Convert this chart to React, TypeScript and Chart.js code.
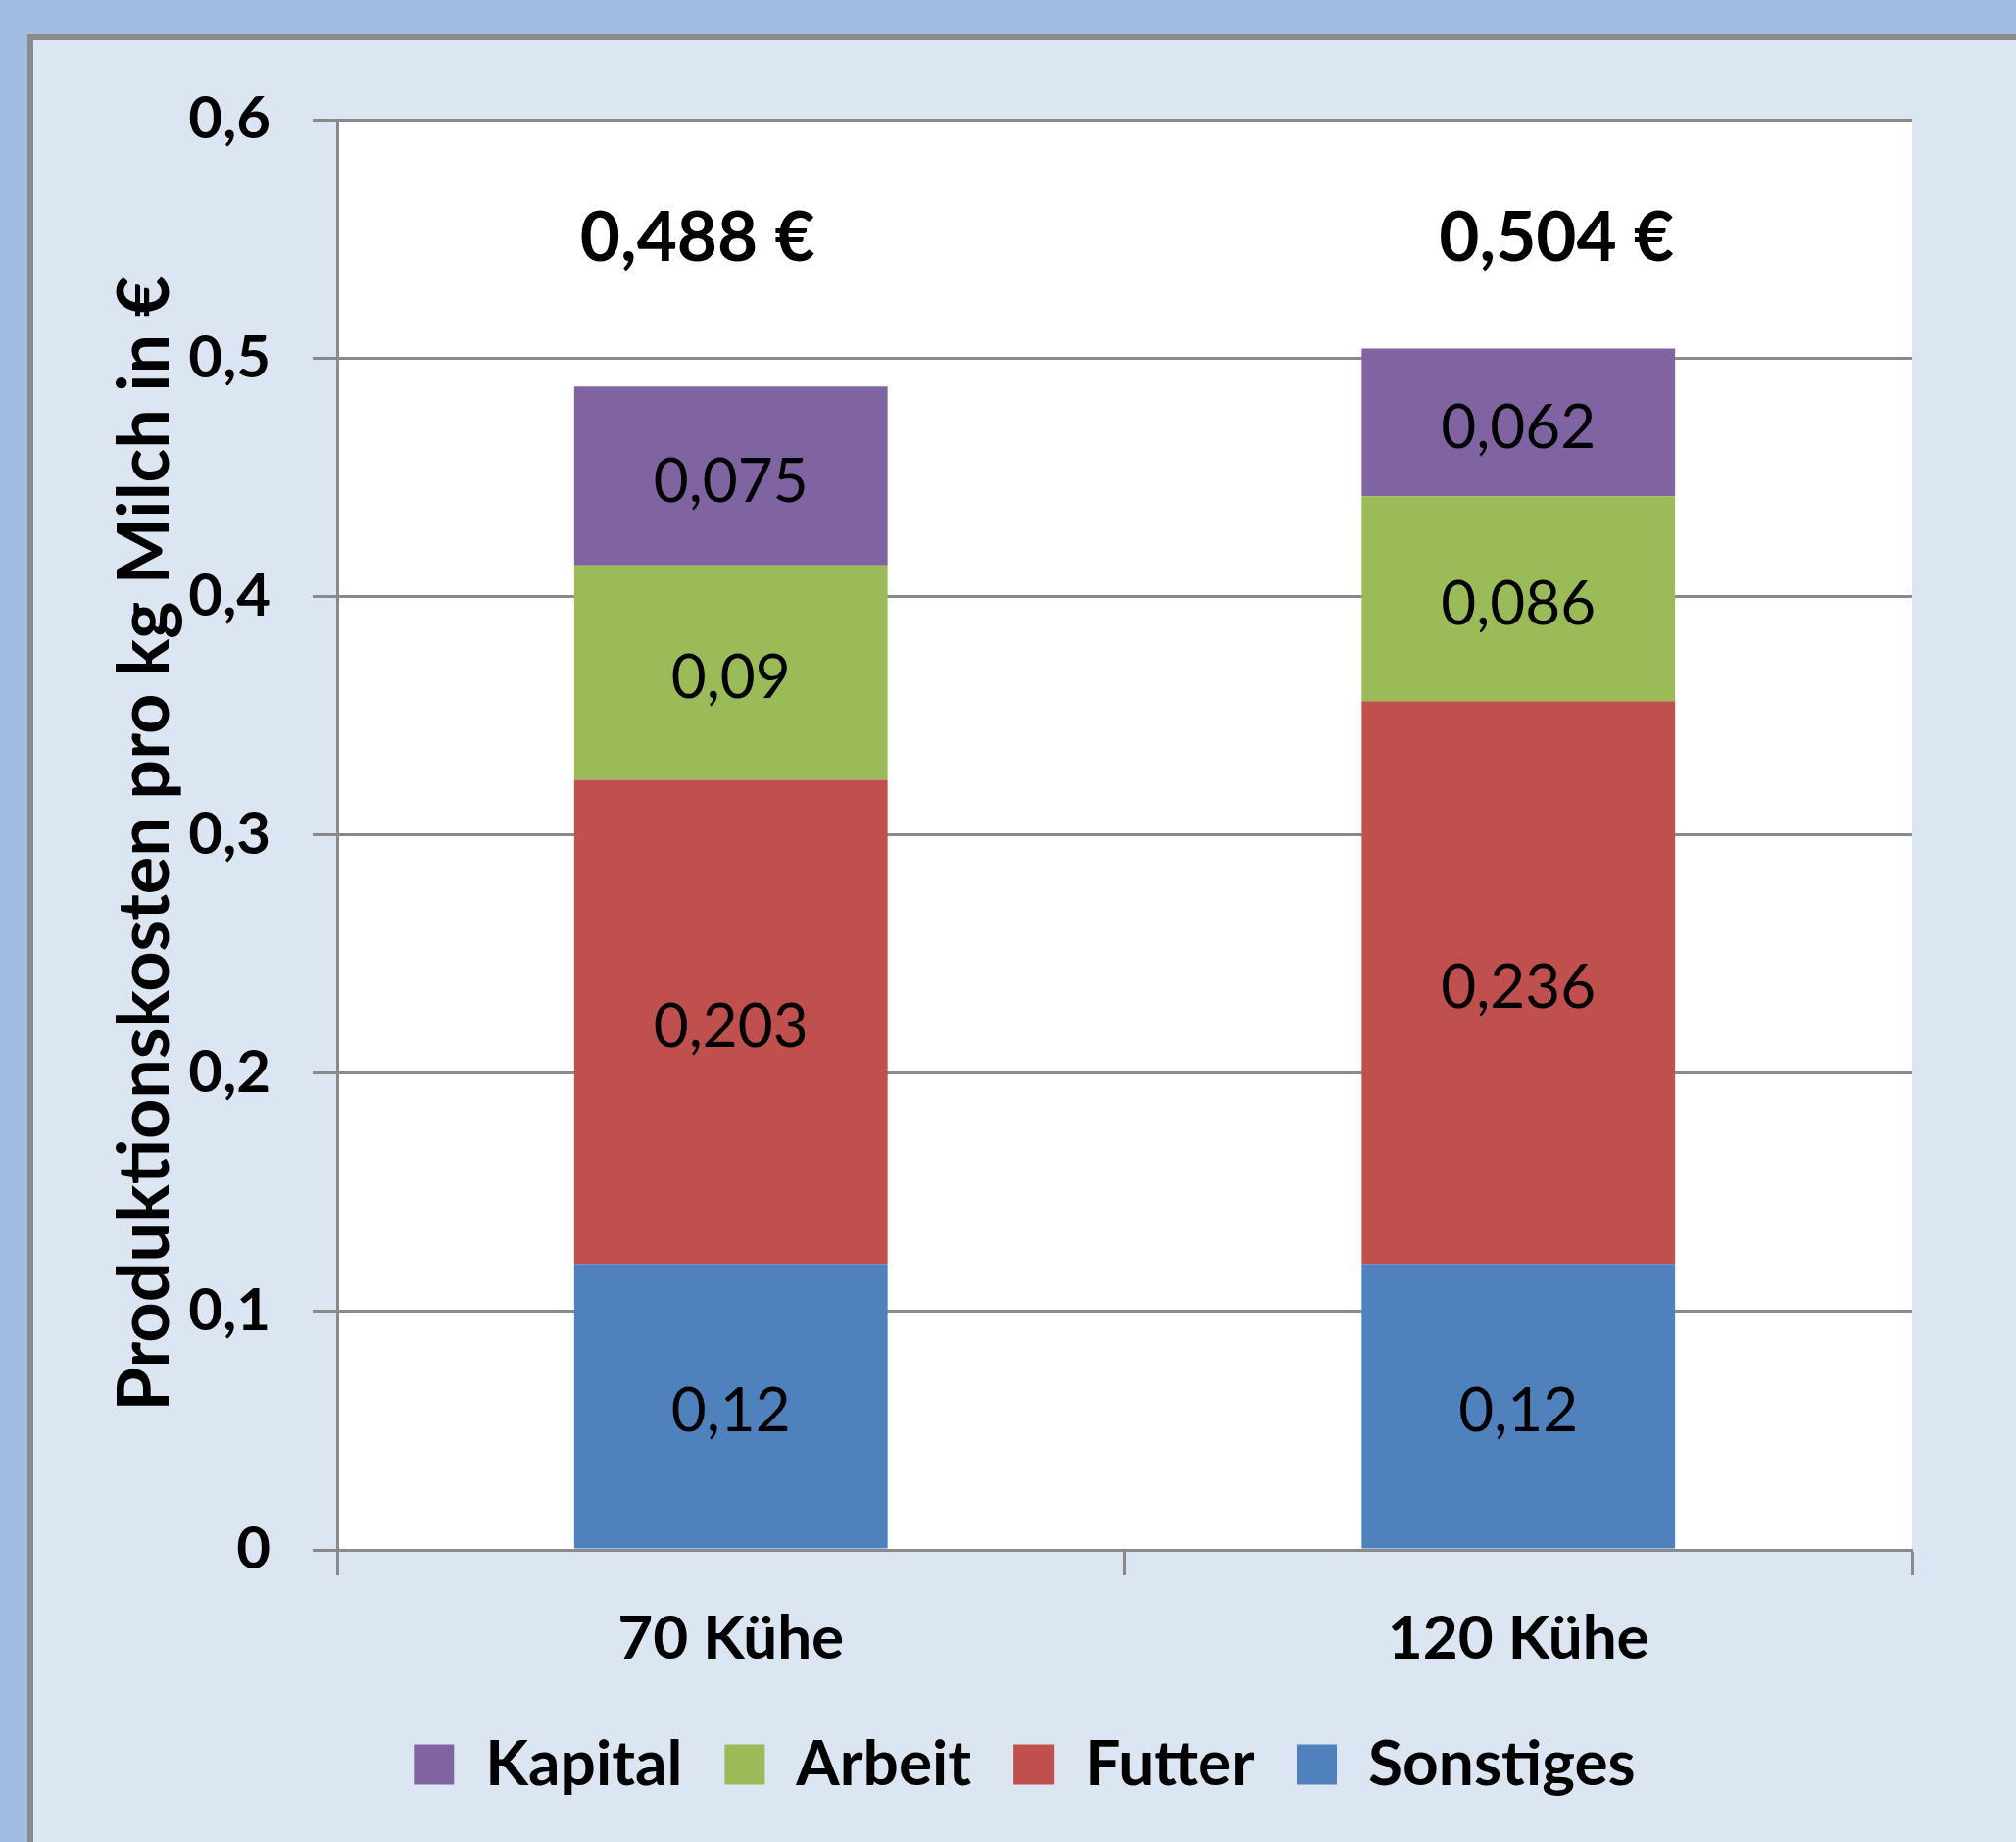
import React, { useEffect, useRef } from "react";
import { Chart, registerables } from "chart.js";

Chart.register(...registerables);

// ---- data ----
const categories = ["70 Kühe", "120 Kühe"];
const seriesNames = ["Sonstiges", "Futter", "Arbeit", "Kapital"];
const sonstiges = [0.12, 0.12];
const futter = [0.203, 0.236];
const arbeit = [0.09, 0.086];
const kapital = [0.075, 0.062];
const totals = [0.488, 0.504];
const seriesColors = ["#4F81BD", "#C0504D", "#9BBB59", "#8064A2"];
const yMin = 0;
const yMax = 0.6;
const yStep = 0.1;
const axisTitle = "Produktionskosten pro kg Milch in €";
const totalOffsetsX = [-34, 39];

const FONT = "Lato, 'Open Sans', 'DejaVu Sans', sans-serif";
const GRID = "#8A8A8A";

const fmt = (v: number) => String(Number(v.toFixed(3))).replace(".", ",");

const plotBgPlugin = {
  id: "plotBg",
  beforeDraw(chart: any) {
    const { ctx, chartArea } = chart;
    ctx.save();
    ctx.fillStyle = "#FFFFFF";
    ctx.fillRect(chartArea.left, chartArea.top, chartArea.right - chartArea.left, chartArea.bottom - chartArea.top);
    ctx.restore();
  },
};

const labelsPlugin = {
  id: "valueLabels",
  afterDatasetsDraw(chart: any) {
    const { ctx, chartArea } = chart;
    ctx.save();
    ctx.fillStyle = "#000000";
    ctx.textAlign = "center";
    ctx.textBaseline = "alphabetic";
    ctx.font = `400 62px ${FONT}`;
    chart.data.datasets.forEach((ds: any, di: number) => {
      const meta = chart.getDatasetMeta(di);
      meta.data.forEach((bar: any, i: number) => {
        const mid = (bar.y + bar.base) / 2;
        ctx.fillText(fmt(ds.data[i]), bar.x, mid + 26);
      });
    });
    // totals
    const yScale = chart.scales.y;
    const firstMeta = chart.getDatasetMeta(0);
    ctx.font = `700 71px ${FONT}`;
    totals.forEach((t, i) => {
      const bx = firstMeta.data[i].x + totalOffsetsX[i];
      ctx.fillText(fmt(t) + " €", bx, yScale.getPixelForValue(yMax) + 144);
    });
    // axis title
    ctx.save();
    ctx.translate(172, (chartArea.top + chartArea.bottom) / 2 + 9);
    ctx.rotate(-Math.PI / 2);
    ctx.font = `700 72px ${FONT}`;
    ctx.fillText(axisTitle, 0, 0);
    ctx.restore();
    ctx.restore();
  },
};

export default function App() {
  const ref = useRef<HTMLCanvasElement | null>(null);

  useEffect(() => {
    document.body.style.margin = "0";
    const canvas = ref.current;
    if (!canvas) return;
    const dataSeries = [sonstiges, futter, arbeit, kapital];
    const chart = new Chart(canvas, {
      type: "bar",
      data: {
        labels: categories,
        datasets: seriesNames.map((name, i) => ({
          label: name,
          data: dataSeries[i],
          backgroundColor: seriesColors[i],
          borderWidth: 0,
          barPercentage: 0.398,
          categoryPercentage: 1,
        })),
      },
      options: {
        responsive: false,
        animation: false,
        devicePixelRatio: 1,
        layout: { padding: { left: 34, top: 122, right: 0, bottom: 37 } },
        plugins: {
          legend: {
            position: "bottom",
            reverse: true,
            labels: {
              color: "#000",
              font: { family: FONT, size: 64, weight: "bold" },
              boxWidth: 41,
              boxHeight: 41,
              padding: 43,
            },
          },
          tooltip: { enabled: false },
          title: { display: false },
        },
        scales: {
          x: {
            stacked: true,
            offset: true,
            grid: {
              offset: true,
              drawOnChartArea: false,
              drawTicks: true,
              tickLength: 26,
              tickWidth: 3,
              tickColor: GRID,
              color: GRID,
            },
            border: { display: true, color: GRID, width: 3 },
            ticks: {
              color: "#000",
              font: { family: FONT, size: 62, weight: "bold" },
              padding: 28,
              maxRotation: 0,
            },
            afterFit: (scale: any) => {
              scale.height = 144;
            },
          },
          y: {
            stacked: true,
            min: yMin,
            max: yMax,
            ticks: {
              stepSize: yStep,
              color: "#000",
              font: { family: FONT, size: 60, weight: "bold" },
              padding: 43,
              callback: (v: any) => String(Number(Number(v).toFixed(1))).replace(".", ","),
            },
            grid: {
              color: GRID,
              lineWidth: 3,
              drawTicks: true,
              tickLength: 25,
              tickWidth: 3,
              tickColor: GRID,
            },
            border: { display: true, color: GRID, width: 3 },
            afterFit: (scale: any) => {
              scale.width = 310;
            },
          },
          yRight: {
            type: "linear",
            position: "right",
            min: yMin,
            max: yMax,
            grid: { display: false, drawTicks: false },
            border: { display: false },
            ticks: { display: false },
            afterFit: (scale: any) => {
              scale.width = 106;
            },
          },
        },
      },
      plugins: [plotBgPlugin, labelsPlugin],
    });
    if ((document as any).fonts && (document as any).fonts.load) {
      Promise.all([
        (document as any).fonts.load(`700 60px Lato`),
        (document as any).fonts.load(`400 60px Lato`),
      ]).then(() => chart.update()).catch(() => {});
    }
    return () => chart.destroy();
  }, []);

  return (
    <div style={{ position: "absolute", left: 0, top: 0, width: 2057, height: 1879, background: "#A2BCE4", overflow: "hidden" }}>
      <div
        style={{
          position: "absolute",
          left: 28,
          top: 35,
          right: 0,
          bottom: 0,
          background: "#DCE6F2",
          borderLeft: "6px solid #8A8A8A",
          borderTop: "6px solid #8A8A8A",
        }}
      />
      <canvas ref={ref} width={2057} height={1879} style={{ position: "absolute", left: 0, top: 0, width: 2057, height: 1879 }} />
    </div>
  );
}
